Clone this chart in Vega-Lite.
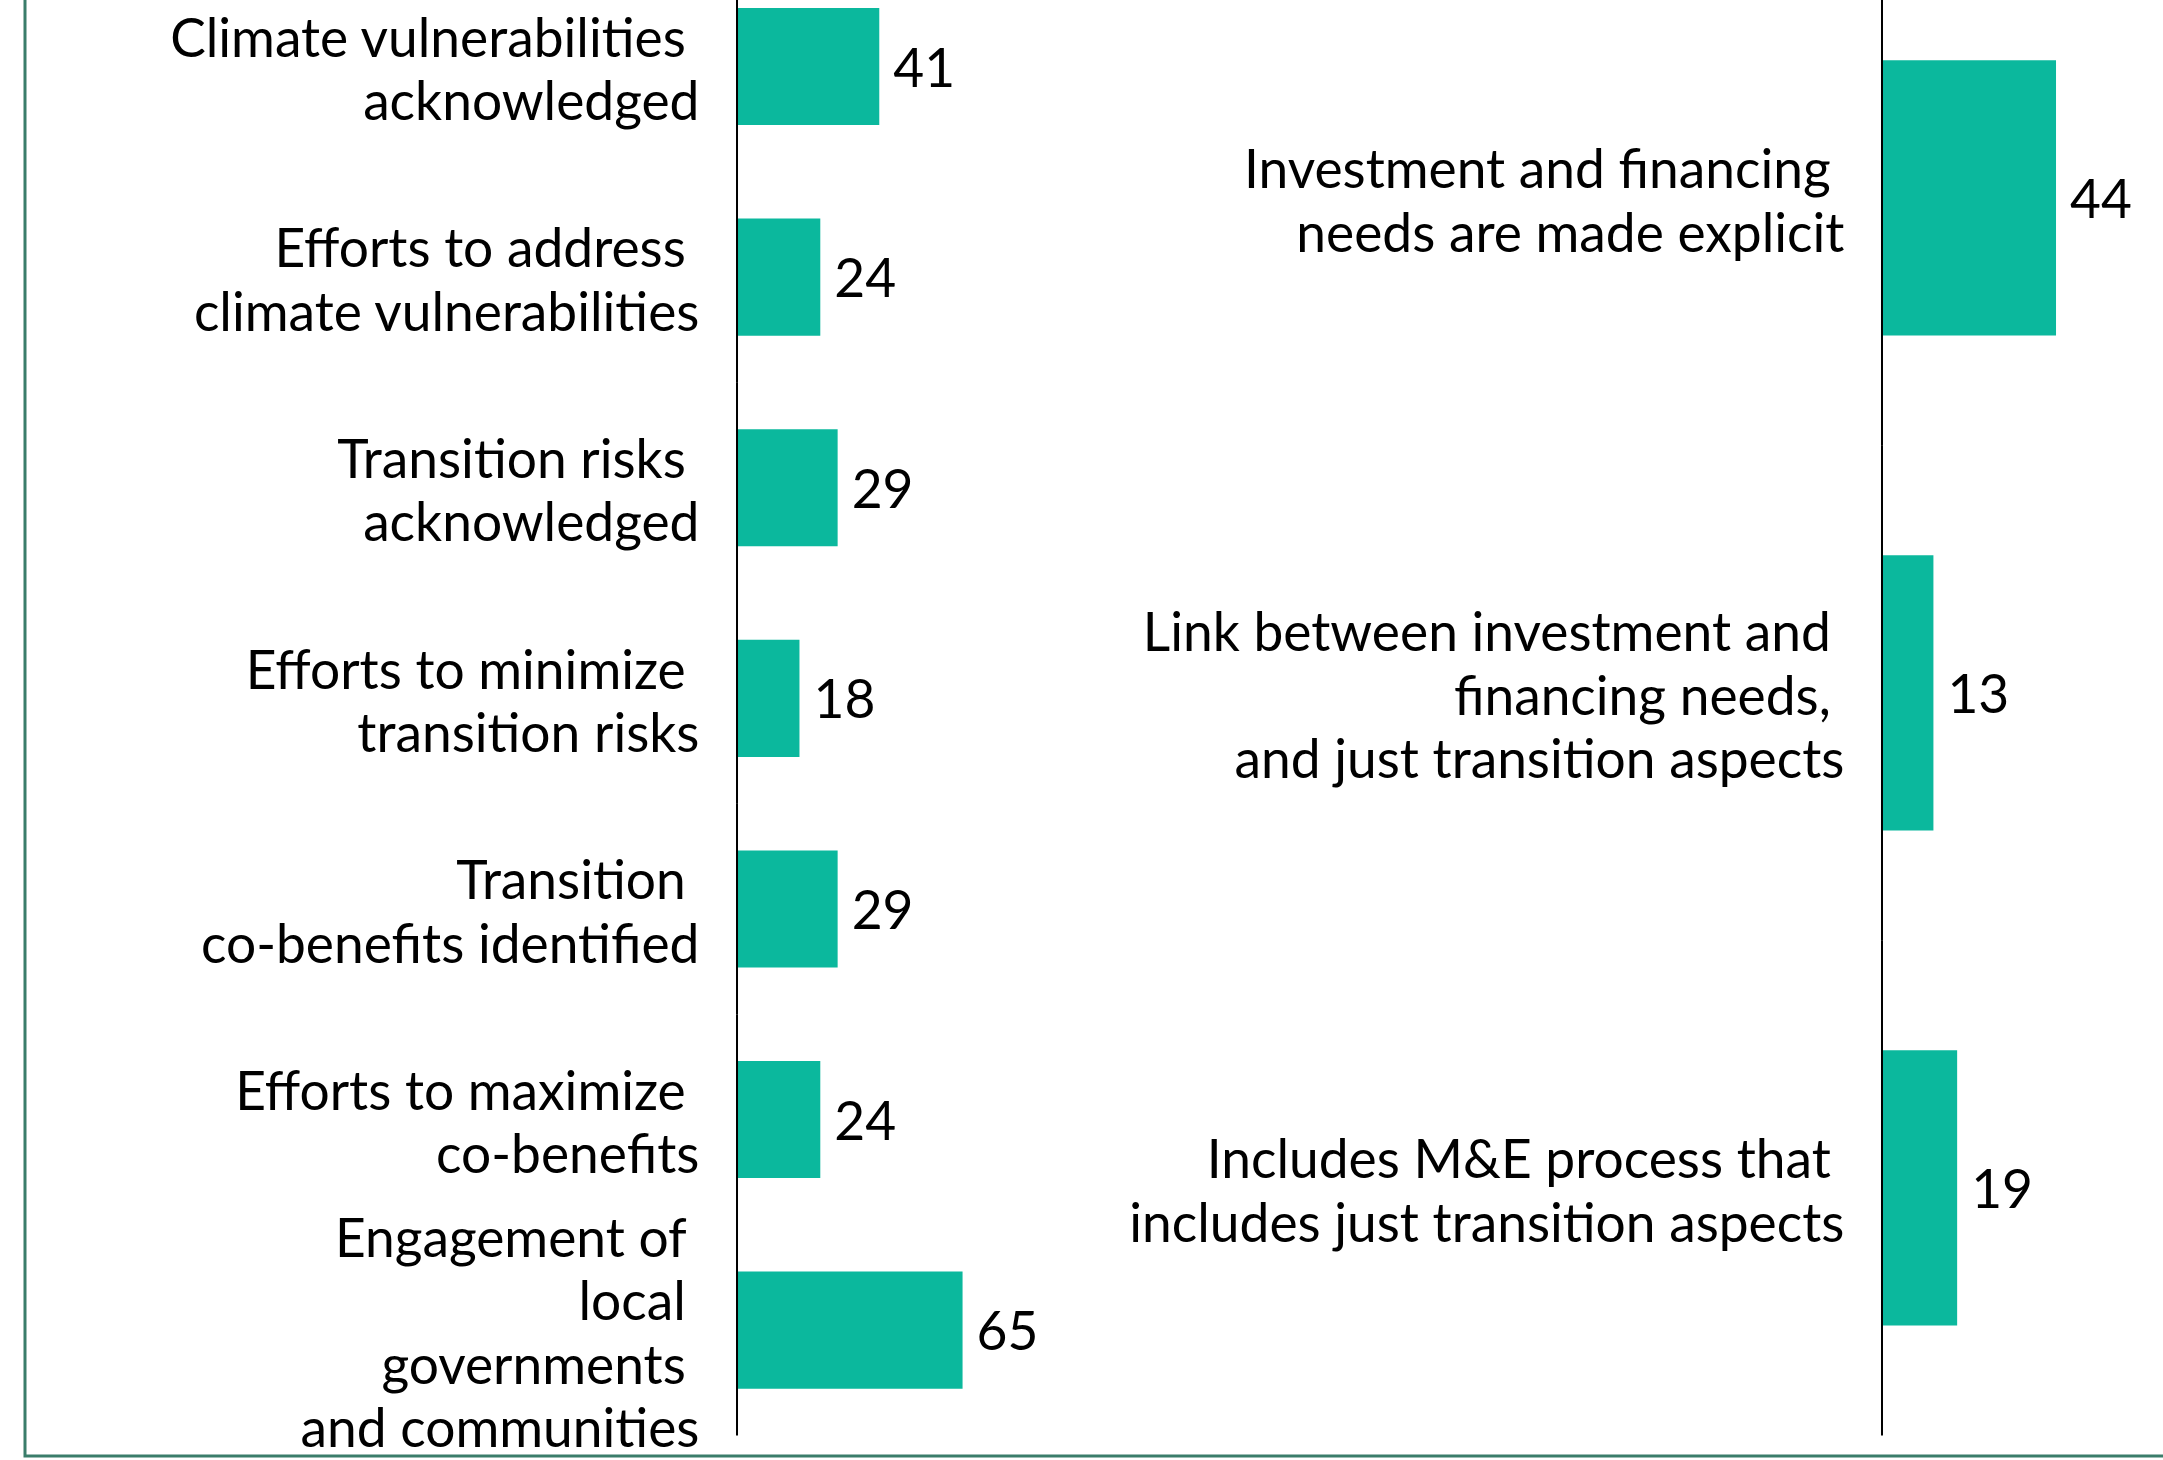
{
  "$schema": "https://vega.github.io/schema/vega-lite/v6.json",
  "width": 2170,
  "height": 1466,
  "autosize": {"type": "none"},
  "padding": {"left": 25, "top": -10, "right": 0, "bottom": 4},
  "background": "white",
  "config": {
    "view": {"stroke": "#3a7d6a", "strokeWidth": 3},
    "font": "Lato",
    "text": {"font": "Lato", "color": "black", "fontSize": 53.3, "lineHeight": 63.5, "lineBreak": "\n"}
  },
  "datasets": {
    "left": [
      {"label": "Climate vulnerabilities\u00a0\u200b\nacknowledged", "value": 41},
      {"label": "Efforts to address\u00a0\u200b\nclimate vulnerabilities", "value": 24},
      {"label": "Transition risks\u00a0\u200b\nacknowledged", "value": 29},
      {"label": "Efforts to minimize\u00a0\u200b\ntransition risks", "value": 18},
      {"label": "Transition\u00a0\u200b\nco-benefits identified", "value": 29},
      {"label": "Efforts to maximize\u00a0\u200b\nco-benefits", "value": 24},
      {"label": "Engagement of\u00a0\u200b\nlocal\u00a0\u200b\ngovernments\u00a0\u200b\nand communities", "value": 65}
    ],
    "right": [
      {"label": "Investment and financing\u00a0\u200b\nneeds are made explicit", "value": 44},
      {"label": "Link between investment and\u00a0\u200b\nfinancing needs,\u00a0\u200b\nand just transition aspects", "value": 13},
      {"label": "Includes M&E process that\u00a0\u200b\nincludes just transition aspects", "value": 19}
    ]
  },
  "layer": [
    {
      "data": {"name": "left"},
      "encoding": {
        "y": {
          "field": "label",
          "type": "nominal",
          "sort": null,
          "axis": null,
          "scale": {"paddingInner": 0.444, "paddingOuter": 0.2025, "align": 0.211}
        }
      },
      "layer": [
        {
          "mark": {"type": "bar", "color": "#0bb89d"},
          "encoding": {
            "x": {
              "field": "value",
              "type": "quantitative",
              "axis": null,
              "scale": {"domain": [-205.19, 420.17], "nice": false, "zero": false}
            }
          }
        },
        {
          "mark": {"type": "bar", "height": {"band": 1.8}, "stroke": "black", "strokeWidth": 2, "fillOpacity": 0},
          "encoding": {"x": {"datum": 0}, "x2": {"datum": 0}}
        },
        {
          "mark": {"type": "text", "align": "left", "baseline": "middle", "dx": 14, "dy": 4},
          "encoding": {
            "x": {"field": "value", "type": "quantitative"},
            "text": {"field": "value", "type": "quantitative"}
          }
        },
        {
          "transform": [{"filter": "length(split(datum.label, '\\n')) == 2"}],
          "mark": {"type": "text", "align": "right", "baseline": "middle", "dx": -37.6, "dy": -25.75},
          "encoding": {"x": {"datum": 0}, "text": {"field": "label", "type": "nominal"}}
        },
        {
          "transform": [{"filter": "length(split(datum.label, '\\n')) == 3"}],
          "mark": {"type": "text", "align": "right", "baseline": "middle", "dx": -37.6, "dy": -57.5},
          "encoding": {"x": {"datum": 0}, "text": {"field": "label", "type": "nominal"}}
        },
        {
          "transform": [{"filter": "length(split(datum.label, '\\n')) == 4"}],
          "mark": {"type": "text", "align": "right", "baseline": "middle", "dx": -37.6, "dy": -89.25},
          "encoding": {"x": {"datum": 0}, "text": {"field": "label", "type": "nominal"}}
        }
      ]
    },
    {
      "data": {"name": "right"},
      "encoding": {
        "y": {
          "field": "label",
          "type": "nominal",
          "sort": null,
          "axis": null,
          "scale": {"paddingInner": 0.444, "paddingOuter": 0.2028, "align": 0.35}
        }
      },
      "layer": [
        {
          "mark": {"type": "bar", "color": "#0bb89d"},
          "encoding": {
            "x": {
              "field": "value",
              "type": "quantitative",
              "axis": null,
              "scale": {"domain": [-469.53, 79.14], "nice": false, "zero": false}
            }
          }
        },
        {
          "mark": {"type": "bar", "height": {"band": 1.8}, "stroke": "black", "strokeWidth": 2, "fillOpacity": 0},
          "encoding": {"x": {"datum": 0}, "x2": {"datum": 0}}
        },
        {
          "mark": {"type": "text", "align": "left", "baseline": "middle", "dx": 14, "dy": 4},
          "encoding": {
            "x": {"field": "value", "type": "quantitative"},
            "text": {"field": "value", "type": "quantitative"}
          }
        },
        {
          "transform": [{"filter": "length(split(datum.label, '\\n')) == 2"}],
          "mark": {"type": "text", "align": "right", "baseline": "middle", "dx": -37.6, "dy": -25.75},
          "encoding": {"x": {"datum": 0}, "text": {"field": "label", "type": "nominal"}}
        },
        {
          "transform": [{"filter": "length(split(datum.label, '\\n')) == 3"}],
          "mark": {"type": "text", "align": "right", "baseline": "middle", "dx": -37.6, "dy": -57.5},
          "encoding": {"x": {"datum": 0}, "text": {"field": "label", "type": "nominal"}}
        },
        {
          "transform": [{"filter": "length(split(datum.label, '\\n')) == 4"}],
          "mark": {"type": "text", "align": "right", "baseline": "middle", "dx": -37.6, "dy": -89.25},
          "encoding": {"x": {"datum": 0}, "text": {"field": "label", "type": "nominal"}}
        }
      ]
    }
  ],
  "resolve": {"scale": {"x": "independent", "y": "independent"}}
}
